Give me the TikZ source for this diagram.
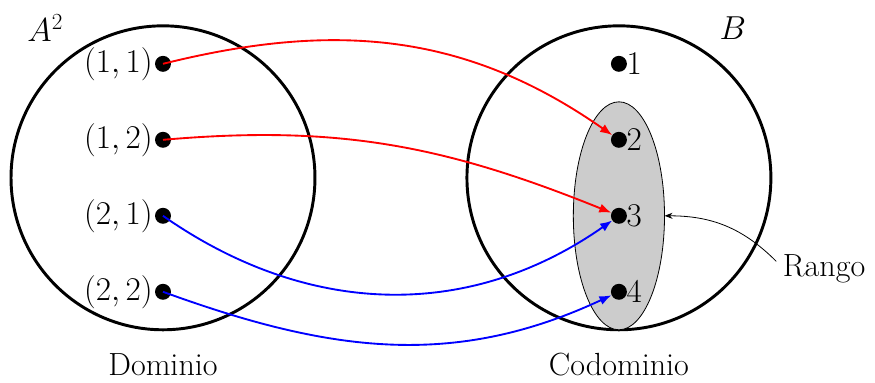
\documentclass[tikz,border=0pt]{standalone}
\usepackage{amsmath}
\usepackage{tikz}
\usetikzlibrary{arrows.meta, positioning}

\begin{document}
\begin{tikzpicture}[
    font=\fontsize{24}{28}\selectfont,
    pto/.style={circle, fill=black, inner sep=0pt, minimum size=0.42cm},
    conj/.style={draw=black, line width=2.2pt},
    flecha/.style={-{Latex[length=9pt, width=7pt]}, line width=1.4pt}
]
    \useasboundingbox (-4.29,-5.39) rectangle (18.74,4.68);

    % conjuntos
    \draw[conj] (0,0) circle (4);
    \draw[conj] (12,0) circle (4);
    \draw[fill=black!20, line width=0.6pt] (12,-1) ellipse (1.2 and 3);

    \node (A) at (-3.1,3.95) {$A^2$};
    \node (B) at (15.0,3.95) {$B$};
    \node[inner sep=1pt] (dom) at (0,-4.92) {Dominio};
    \node[inner sep=1pt] (cod) at (12,-4.92) {Codominio};

    % dominio
    \node[pto, label={[xshift=2pt]left:{$(1,1)$}}] (a11) at (0,3) {};
    \node[pto, label={[xshift=2pt]left:{$(1,2)$}}] (a12) at (0,1) {};
    \node[pto, label={[xshift=2pt]left:{$(2,1)$}}] (a21) at (0,-1) {};
    \node[pto, label={[xshift=2pt]left:{$(2,2)$}}] (a22) at (0,-3) {};

    % codominio
    \node[pto, label={[xshift=-4pt]right:{$1$}}] (b1) at (12,3) {};
    \node[pto, label={[xshift=-4pt]right:{$2$}}] (b2) at (12,1) {};
    \node[pto, label={[xshift=-4pt]right:{$3$}}] (b3) at (12,-1) {};
    \node[pto, label={[xshift=-4pt]right:{$4$}}] (b4) at (12,-3) {};

    \node (rango) at (17.4,-2.4) {Rango};
    \coordinate (ran) at (13.2,-1);

    \draw[flecha, red] (a11.center) to[out=14, in=145] (b2);
    \draw[flecha, red] (a12.center) to[out=5, in=158] (b3);
    \draw[flecha, blue] (a21.center) to[out=-35, in=-145] (b3);
    \draw[flecha, blue] (a22.center) to[out=-20, in=-155] (b4);

    \draw[-{Stealth[length=6pt]}, line width=0.6pt] (rango.west) ++(-0.05,0.2) to[out=135, in=0] (ran);
\end{tikzpicture}
\end{document}
